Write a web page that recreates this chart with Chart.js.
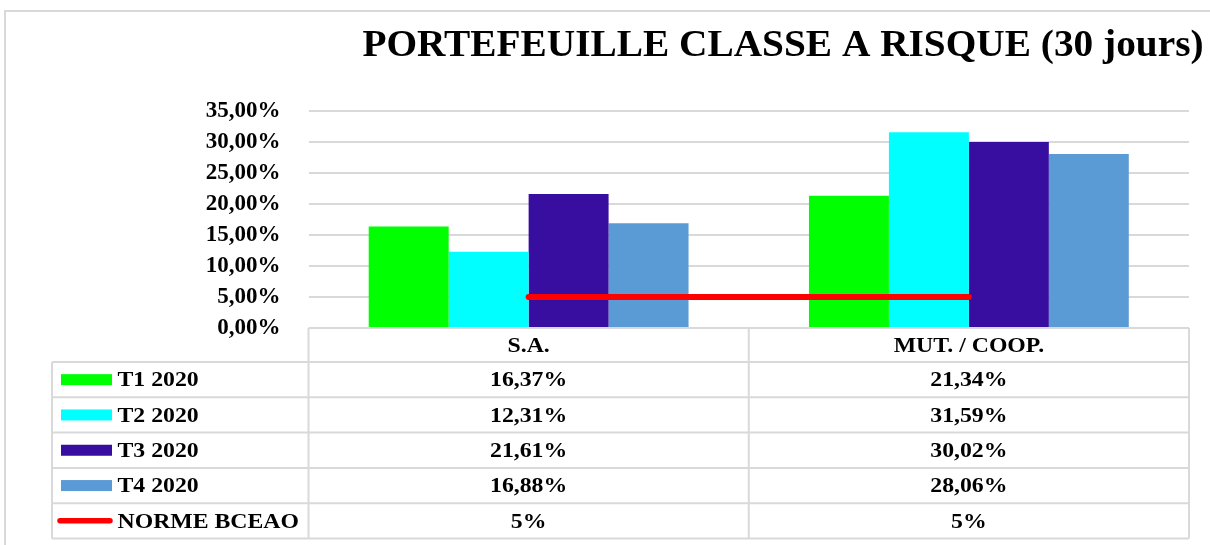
<!DOCTYPE html>
<html>
<head>
<meta charset="utf-8">
<script src="https://cdn.jsdelivr.net/npm/chart.js@4"></script>
<style>
  html, body { margin: 0; padding: 0; background: #ffffff; }
  #wrap { width: 1210px; height: 545px; position: relative; }
</style>
</head>
<body>
<div id="wrap"><canvas id="c" width="1210" height="545"></canvas></div>
<script>
// ---- data ----
const chartTitle = 'PORTEFEUILLE CLASSE A RISQUE (30 jours)';
const categories = ['S.A.', 'MUT. / COOP.'];
const seriesNames = ['T1 2020', 'T2 2020', 'T3 2020', 'T4 2020', 'NORME BCEAO'];
const t1Values = [16.37, 21.34];
const t2Values = [12.31, 31.59];
const t3Values = [21.61, 30.02];
const t4Values = [16.88, 28.06];
const normeValues = [5, 5];
const yTickValues = [0, 5, 10, 15, 20, 25, 30, 35];

// ---- styles ----
const colors = ['#00FF00', '#00FFFF', '#380EA0', '#5B9BD5', '#FF0000'];
const serif = "'Liberation Serif', 'Times New Roman', serif";
const gridGray = '#d9d9d9';

function fmtTick(v) { return v.toFixed(2).replace('.', ',') + '%'; }
function fmtCell(v) { return Number.isInteger(v) ? v + '%' : v.toFixed(2).replace('.', ',') + '%'; }

function stretchText(ctx, text, x, y, sx) {
  ctx.save();
  ctx.translate(x, y);
  ctx.scale(sx, 1);
  ctx.fillText(text, 0, 0);
  ctx.restore();
}

const framePlugin = {
  id: 'frame',
  beforeDraw(chart) {
    const ctx = chart.ctx;
    ctx.save();
    ctx.fillStyle = '#ffffff';
    ctx.fillRect(0, 0, chart.width, chart.height);
    ctx.strokeStyle = gridGray;
    ctx.lineWidth = 2;
    ctx.strokeRect(5, 11, 1400, 800);
    ctx.restore();
  }
};

const tablePlugin = {
  id: 'dataTable',
  afterDraw(chart) {
    const ctx = chart.ctx;
    const ca = chart.chartArea;
    const xs = chart.scales.x;
    const centers = categories.map((_, i) => xs.getPixelForValue(i));
    const bounds = [ca.left];
    for (let i = 0; i < centers.length - 1; i++) bounds.push((centers[i] + centers[i + 1]) / 2);
    bounds.push(ca.right);
    const legendLeft = 52;
    const headerTop = ca.bottom;
    const headerH = 34;
    const rowH = 35.3;
    const ds = chart.data.datasets;
    const tableBottom = headerTop + headerH + rowH * ds.length;
    const sx = 1.08;

    ctx.save();
    // title
    ctx.fillStyle = '#000';
    ctx.font = 'bold 38px ' + serif;
    ctx.textAlign = 'center';
    ctx.textBaseline = 'alphabetic';
    stretchText(ctx, chartTitle, 783, 56, 1.035);

    // grid lines of table
    ctx.strokeStyle = gridGray;
    ctx.lineWidth = 2;
    ctx.beginPath();
    ctx.moveTo(ca.left, headerTop); ctx.lineTo(ca.right, headerTop);
    for (let r = 0; r <= ds.length; r++) {
      const y = headerTop + headerH + rowH * r;
      ctx.moveTo(legendLeft, y); ctx.lineTo(ca.right, y);
    }
    bounds.forEach(x => { ctx.moveTo(x, headerTop); ctx.lineTo(x, tableBottom); });
    ctx.moveTo(legendLeft, headerTop + headerH); ctx.lineTo(legendLeft, tableBottom);
    ctx.stroke();

    // header
    ctx.fillStyle = '#000';
    ctx.font = 'bold 22px ' + serif;
    ctx.textAlign = 'center';
    ctx.textBaseline = 'middle';
    categories.forEach((c, i) => stretchText(ctx, c, (bounds[i] + bounds[i + 1]) / 2, headerTop + headerH / 2 + 1, sx));

    // rows
    ds.forEach((d, r) => {
      const mid = headerTop + headerH + rowH * r + rowH / 2;
      if (d.type === 'line') {
        ctx.strokeStyle = d.borderColor;
        ctx.lineWidth = 5.5;
        ctx.lineCap = 'round';
        ctx.beginPath(); ctx.moveTo(60, mid); ctx.lineTo(110, mid); ctx.stroke();
      } else {
        ctx.fillStyle = d.backgroundColor;
        ctx.fillRect(61, mid - 5.5, 51, 11);
      }
      ctx.fillStyle = '#000';
      ctx.textAlign = 'left';
      stretchText(ctx, d.label, 117.5, mid + 1, sx);
      ctx.textAlign = 'center';
      d.data.forEach((v, i) => stretchText(ctx, fmtCell(v), (bounds[i] + bounds[i + 1]) / 2, mid + 1, sx));
    });
    ctx.restore();
  }
};

const barSeries = [t1Values, t2Values, t3Values, t4Values];
const datasets = barSeries.map((vals, i) => ({
  type: 'bar',
  label: seriesNames[i],
  data: vals,
  backgroundColor: colors[i],
  borderWidth: 0,
  barPercentage: 1,
  categoryPercentage: 0.7265,
  order: 2
}));
datasets.push({
  type: 'line',
  label: seriesNames[4],
  data: normeValues,
  borderColor: colors[4],
  backgroundColor: colors[4],
  borderWidth: 6,
  borderCapStyle: 'round',
  pointRadius: 0,
  fill: false,
  order: 0
});

new Chart(document.getElementById('c'), {
  type: 'bar',
  data: { labels: categories, datasets },
  plugins: [framePlugin, tablePlugin],
  options: {
    responsive: false,
    animation: false,
    layout: { padding: { top: 111, bottom: 217, left: 0, right: 21 } },
    plugins: { legend: { display: false }, tooltip: { enabled: false }, title: { display: false } },
    scales: {
      x: { display: false },
      y: {
        min: yTickValues[0],
        max: yTickValues[yTickValues.length - 1],
        afterBuildTicks(scale) { scale.ticks = yTickValues.map(v => ({ value: v })); },
        afterFit(scale) { scale.width = 308.5; },
        ticks: {
          callback: v => fmtTick(v),
          color: '#000',
          font: { family: serif, weight: 'bold', size: 23 },
          padding: 28
        },
        grid: { color: gridGray, lineWidth: 2, drawTicks: false },
        border: { display: false }
      }
    }
  }
});
</script>
</body>
</html>
